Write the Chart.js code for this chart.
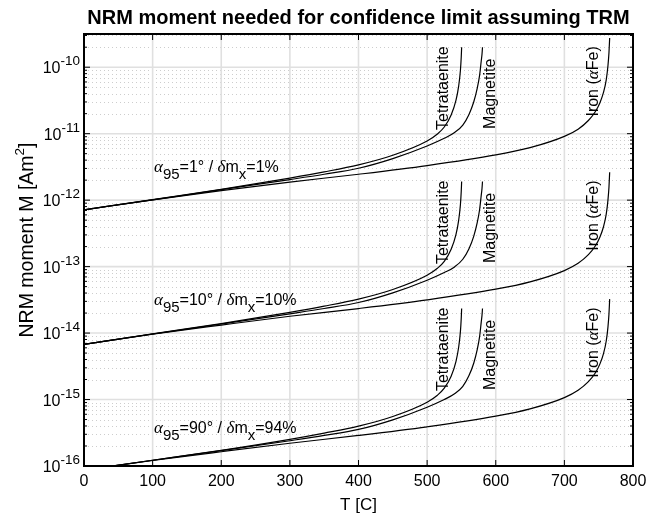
<!DOCTYPE html>
<html>
<head>
<meta charset="utf-8">
<script src="https://cdn.jsdelivr.net/npm/chart.js@4.4.0/dist/chart.umd.min.js"></script>
<style>
  body { margin: 0; background: #fff; }
  canvas { display: block; }
</style>
</head>
<body>
<canvas id="myChart" width="647" height="521"></canvas>
<script>
// temperatures (C) sampled along each material curve
const tempTetra = [0, 100, 200, 300, 350, 400, 450, 500, 515, 525, 535, 542, 546, 548.5, 549.7, 550.3];
const tempMagn = [0, 100, 200, 300, 350, 400, 450, 500, 525, 540, 552, 561, 568, 573, 576.5, 578.8, 580, 580.7];
const tempIron = [0, 100, 200, 300, 400, 500, 600, 650, 700, 720, 735, 745, 752, 757, 761, 763.5, 765, 766];

// alpha95 = 1 deg / dm = 1 %
const tetraA = [7.16e-13, 1.02e-12, 1.45e-12, 2.15e-12, 2.66e-12, 3.39e-12, 4.73e-12, 7.76e-12, 9.89e-12, 1.26e-11, 1.91e-11, 3.16e-11, 5.25e-11, 8.91e-11, 1.41e-10, 2.0e-10];
const magnA = [7.16e-13, 1.01e-12, 1.44e-12, 2.04e-12, 2.45e-12, 3.02e-12, 4.22e-12, 6.53e-12, 8.51e-12, 1.04e-11, 1.35e-11, 1.95e-11, 3.02e-11, 4.79e-11, 7.59e-11, 1.23e-10, 1.58e-10, 2.0e-10];
const ironA = [7.16e-13, 1.01e-12, 1.39e-12, 1.87e-12, 2.45e-12, 3.31e-12, 4.79e-12, 6.17e-12, 9.12e-12, 1.17e-11, 1.58e-11, 2.14e-11, 2.95e-11, 4.17e-11, 6.46e-11, 1.05e-10, 1.66e-10, 2.75e-10];

// alpha95 = 10 deg / dm = 10 %
const tetraB = [6.75e-15, 9.70e-15, 1.39e-14, 2.05e-14, 2.54e-14, 3.24e-14, 4.52e-14, 7.41e-14, 9.44e-14, 1.20e-13, 1.82e-13, 3.02e-13, 5.01e-13, 8.51e-13, 1.35e-12, 1.91e-12];
const magnB = [6.75e-15, 9.68e-15, 1.37e-14, 1.95e-14, 2.34e-14, 2.88e-14, 4.03e-14, 6.24e-14, 8.13e-14, 9.89e-14, 1.29e-13, 1.86e-13, 2.88e-13, 4.57e-13, 7.24e-13, 1.17e-12, 1.51e-12, 1.91e-12];
const ironB = [6.75e-15, 9.62e-15, 1.32e-14, 1.79e-14, 2.34e-14, 3.16e-14, 4.57e-14, 5.89e-14, 8.71e-14, 1.12e-13, 1.51e-13, 2.04e-13, 2.82e-13, 3.98e-13, 6.17e-13, 1.0e-12, 1.58e-12, 2.63e-12];

// alpha95 = 90 deg / dm = 94 %
const tetraC = [8.69e-17, 1.22e-16, 1.72e-16, 2.52e-16, 3.13e-16, 3.98e-16, 5.56e-16, 9.12e-16, 1.16e-15, 1.48e-15, 2.24e-15, 3.72e-15, 6.17e-15, 1.05e-14, 1.66e-14, 2.34e-14];
const magnC = [8.69e-17, 1.22e-16, 1.70e-16, 2.40e-16, 2.88e-16, 3.55e-16, 4.95e-16, 7.67e-16, 1.0e-15, 1.22e-15, 1.58e-15, 2.29e-15, 3.55e-15, 5.62e-15, 8.91e-15, 1.45e-14, 1.86e-14, 2.34e-14];
const ironC = [8.69e-17, 1.21e-16, 1.64e-16, 2.20e-16, 2.88e-16, 3.89e-16, 5.62e-16, 7.24e-16, 1.07e-15, 1.38e-15, 1.86e-15, 2.51e-15, 3.47e-15, 4.90e-15, 7.59e-15, 1.23e-14, 1.95e-14, 3.24e-14];

const xTicks = [0, 100, 200, 300, 400, 500, 600, 700, 800];
const yDecades = [-16, -15, -14, -13, -12, -11, -10];

// annotations
const alphaText = ['1°', '10°', '90°'];
const dmText = ['1%', '10%', '94%'];
const noteT = 102;
const noteM = [2.69e-12, 2.65e-14, 3.1e-16];
const labelT = [524, 592, 743];
const labelM = [[1.14e-11, 1.18e-11, 1.81e-11], [1.09e-13, 1.13e-13, 1.73e-13], [1.34e-15, 1.39e-15, 2.13e-15]];

const sans = '"Liberation Sans", Arial, Helvetica, sans-serif';
const serif = '"Liberation Serif", "Times New Roman", serif';

function pts(xs, ys) { return xs.map((t, i) => ({x: t, y: ys[i]})); }

function curve(xs, ys) {
  return {
    data: pts(xs, ys),
    borderColor: '#000',
    borderWidth: 1.2,
    pointRadius: 0,
    cubicInterpolationMode: 'monotone',
    clip: 0
  };
}

function richWidth(ctx, parts) {
  let w = 0;
  for (const p of parts) { ctx.font = p.font; w += ctx.measureText(p.text).width; }
  return w;
}

function drawRich(ctx, parts, x, y, align) {
  let cx = x;
  if (align === 'right') cx = x - richWidth(ctx, parts);
  if (align === 'center') cx = x - richWidth(ctx, parts) / 2;
  ctx.textAlign = 'left';
  for (const p of parts) {
    ctx.font = p.font;
    ctx.fillText(p.text, cx, y + (p.dy || 0));
    cx += ctx.measureText(p.text).width;
  }
}

function hline(ctx, x1, x2, y) { ctx.beginPath(); ctx.moveTo(x1, y); ctx.lineTo(x2, y); ctx.stroke(); }
function vline(ctx, x, y1, y2) { ctx.beginPath(); ctx.moveTo(x, y1); ctx.lineTo(x, y2); ctx.stroke(); }

const decor = {
  id: 'decor',
  beforeDatasetsDraw(chart) {
    const {ctx, chartArea: a, scales: {x, y}} = chart;
    ctx.save();
    // minor grid (dotted)
    ctx.strokeStyle = '#cdcdcd';
    ctx.lineWidth = 1;
    ctx.setLineDash([1, 3]);
    yDecades.forEach(e => {
      for (let k = 2; k <= 9; k++) {
        const v = k * Math.pow(10, e);
        if (v >= y.max) continue;
        hline(ctx, a.left, a.right, Math.round(y.getPixelForValue(v)) + 0.5);
      }
    });
    // major grid
    ctx.setLineDash([]);
    ctx.strokeStyle = '#e0e0e0';
    ctx.lineWidth = 1.6;
    yDecades.forEach(e => hline(ctx, a.left, a.right, y.getPixelForValue(Math.pow(10, e))));
    xTicks.forEach(t => vline(ctx, x.getPixelForValue(t), a.top, a.bottom));
    ctx.restore();
  },
  afterDatasetsDraw(chart) {
    const {ctx, chartArea: a, scales: {x, y}} = chart;
    ctx.save();
    ctx.fillStyle = '#000';
    ctx.strokeStyle = '#000';

    // ticks
    ctx.lineWidth = 1;
    yDecades.forEach(e => {
      const py = y.getPixelForValue(Math.pow(10, e));
      hline(ctx, a.left, a.left + 6, py);
      hline(ctx, a.right - 6, a.right, py);
      for (let k = 2; k <= 9; k++) {
        const v = k * Math.pow(10, e);
        if (v >= y.max) continue;
        const pm = y.getPixelForValue(v);
        hline(ctx, a.left, a.left + 3, pm);
        hline(ctx, a.right - 3, a.right, pm);
      }
    });
    xTicks.forEach(t => {
      const px = x.getPixelForValue(t);
      vline(ctx, px, a.bottom, a.bottom - 6);
      vline(ctx, px, a.top, a.top + 6);
    });

    // box
    ctx.lineWidth = 2;
    ctx.strokeRect(a.left, a.top, a.right - a.left, a.bottom - a.top);

    // tick labels
    ctx.textBaseline = 'alphabetic';
    yDecades.forEach(e => {
      const py = y.getPixelForValue(Math.pow(10, e));
      drawRich(ctx, [
        {text: '10', font: `16px ${sans}`},
        {text: String(e), font: `13.5px ${sans}`, dy: -8}
      ], a.left - 4, py + 6, 'right');
    });
    ctx.font = `16px ${sans}`;
    ctx.textAlign = 'center';
    xTicks.forEach(t => ctx.fillText(String(t), x.getPixelForValue(t), a.bottom + 20));

    // axis titles and title
    ctx.font = `17px ${sans}`;
    ctx.fillText('T [C]', (a.left + a.right) / 2, a.bottom + 44);
    ctx.save();
    ctx.translate(33, 240);
    ctx.rotate(-Math.PI / 2);
    drawRich(ctx, [
      {text: 'NRM moment M [Am', font: `19.5px ${sans}`},
      {text: '2', font: `13.5px ${sans}`, dy: -9},
      {text: ']', font: `19.5px ${sans}`}
    ], 0, 0, 'center');
    ctx.restore();
    ctx.font = `bold 20px ${sans}`;
    ctx.textAlign = 'center';
    ctx.fillText('NRM moment needed for confidence limit assuming TRM', (a.left + a.right) / 2, 24);

    // group notes
    ctx.textBaseline = 'alphabetic';
    noteM.forEach((m, g) => {
      drawRich(ctx, [
        {text: 'α', font: `italic 17px ${serif}`},
        {text: '95', font: `15px ${sans}`, dy: 7},
        {text: '=' + alphaText[g] + ' / ', font: `16px ${sans}`},
        {text: 'δ', font: `italic 17px ${serif}`},
        {text: 'm', font: `16px ${sans}`},
        {text: 'x', font: `15px ${sans}`, dy: 7},
        {text: '=' + dmText[g], font: `16px ${sans}`}
      ], x.getPixelForValue(noteT), y.getPixelForValue(m), 'left');
    });

    // material labels, rotated
    ctx.textBaseline = 'middle';
    labelM.forEach(row => {
      row.forEach((m, i) => {
        ctx.save();
        ctx.translate(x.getPixelForValue(labelT[i]), y.getPixelForValue(m));
        ctx.rotate(-Math.PI / 2);
        let parts;
        if (i === 0) parts = [{text: 'Tetrataenite', font: `16px ${sans}`}];
        else if (i === 1) parts = [{text: 'Magnetite', font: `16px ${sans}`}];
        else parts = [
          {text: 'Iron (', font: `16px ${sans}`},
          {text: 'α', font: `italic 17px ${serif}`},
          {text: 'Fe)', font: `16px ${sans}`}
        ];
        drawRich(ctx, parts, 0, 0, 'left');
        ctx.restore();
      });
    });
    ctx.restore();
  }
};

const ctx = document.getElementById('myChart');

new Chart(ctx, {
  type: 'line',
  data: {
    datasets: [
      curve(tempTetra, tetraA), curve(tempMagn, magnA), curve(tempIron, ironA),
      curve(tempTetra, tetraB), curve(tempMagn, magnB), curve(tempIron, ironB),
      curve(tempTetra, tetraC), curve(tempMagn, magnC), curve(tempIron, ironC)
    ]
  },
  options: {
    responsive: false,
    animation: false,
    layout: { padding: { left: 84, right: 14, top: 34, bottom: 55 } },
    plugins: { legend: { display: false }, tooltip: { enabled: false } },
    scales: {
      x: { type: 'linear', min: 0, max: 800, display: false },
      y: { type: 'logarithmic', min: 1e-16, max: 3.16e-10, display: false }
    }
  },
  plugins: [decor]
});
</script>
</body>
</html>
